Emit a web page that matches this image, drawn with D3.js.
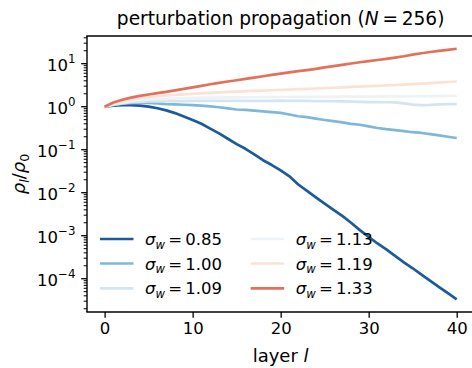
<!DOCTYPE html>
<html><head><meta charset="utf-8">
<script src="https://cdn.jsdelivr.net/npm/d3@7"></script>
<style>
html,body{margin:0;padding:0;background:#fff;}
svg{display:block;}
text{font-family:"DejaVu Sans",sans-serif;fill:#000;}
</style></head>
<body>
<script>
const layers = d3.range(0, 41);
const sigmaLabels = ["0.85", "1.00", "1.09", "1.13", "1.19", "1.33"];
const colors = ["#1d5a9b", "#7db8db", "#d3e5f0", "#edf2f6", "#fbe2d4", "#e2705a"];

const s085 = [1, 1.06, 1.09, 1.09, 1.06, 1.00, 0.92, 0.82, 0.71, 0.59, 0.49, 0.40, 0.31, 0.24, 0.18, 0.135, 0.105, 0.078, 0.057, 0.044, 0.033, 0.024, 0.0155, 0.011, 0.0078, 0.0056, 0.0040, 0.0029, 0.0020, 0.00135, 0.00094, 0.00066, 0.00048, 0.00034, 0.00024, 0.000175, 0.000125, 0.000089, 0.000064, 0.000046, 0.000033];
const s100 = [1, 1.10, 1.18, 1.21, 1.23, 1.22, 1.19, 1.15, 1.13, 1.11, 1.09, 1.06, 1.02, 0.97, 0.91, 0.86, 0.84, 0.81, 0.78, 0.75, 0.72, 0.66, 0.60, 0.57, 0.53, 0.49, 0.46, 0.43, 0.40, 0.38, 0.35, 0.32, 0.30, 0.285, 0.27, 0.255, 0.245, 0.23, 0.215, 0.20, 0.187];
const s109 = [1, 1.12, 1.20, 1.27, 1.30, 1.32, 1.33, 1.34, 1.35, 1.35, 1.36, 1.36, 1.36, 1.36, 1.37, 1.37, 1.37, 1.37, 1.37, 1.37, 1.38, 1.37, 1.36, 1.36, 1.35, 1.35, 1.34, 1.33, 1.31, 1.29, 1.28, 1.28, 1.27, 1.26, 1.20, 1.12, 1.09, 1.10, 1.13, 1.15, 1.15];
const s113 = [1, 1.15, 1.25, 1.35, 1.42, 1.47, 1.50, 1.52, 1.55, 1.57, 1.60, 1.61, 1.62, 1.63, 1.64, 1.65, 1.66, 1.66, 1.67, 1.67, 1.68, 1.68, 1.69, 1.69, 1.70, 1.70, 1.70, 1.71, 1.71, 1.72, 1.72, 1.73, 1.73, 1.74, 1.74, 1.75, 1.76, 1.76, 1.77, 1.78, 1.78];
const s119 = [1, 1.20, 1.35, 1.50, 1.60, 1.68, 1.75, 1.82, 1.88, 1.94, 2.00, 2.05, 2.10, 2.15, 2.20, 2.25, 2.29, 2.33, 2.37, 2.41, 2.45, 2.50, 2.55, 2.60, 2.65, 2.70, 2.76, 2.82, 2.88, 2.94, 3.00, 3.06, 3.13, 3.20, 3.27, 3.35, 3.44, 3.54, 3.64, 3.75, 3.85];
const s133 = [1, 1.25, 1.45, 1.62, 1.78, 1.92, 2.06, 2.22, 2.40, 2.60, 2.82, 3.06, 3.32, 3.58, 3.85, 4.12, 4.42, 4.75, 5.10, 5.50, 5.90, 6.30, 6.70, 7.10, 7.60, 8.20, 8.80, 9.40, 10.1, 10.8, 11.5, 12.2, 13.0, 13.9, 14.9, 16.2, 17.5, 18.7, 19.8, 21.0, 22.3];
const series = [s085, s100, s109, s113, s119, s133];

const xTicks = [0, 10, 20, 30, 40];
const yTickExps = [-4, -3, -2, -1, 0, 1];

const W = 472, H = 368;
const L = 87, R = 474.3, T = 36, B = 312;

const svg = d3.select("body").append("svg").attr("width", W).attr("height", H);

const x = d3.scaleLinear().domain([-2, 42]).range([L, R]);
const y = d3.scaleLog().domain([Math.pow(10, -4.774), Math.pow(10, 1.644)]).range([B, T]);

const g = svg.append("g");
const line = d3.line().x((d, i) => x(layers[i])).y(d => y(d));
series.forEach((s, k) => {
  g.append("path").datum(s).attr("d", line)
    .attr("fill", "none").attr("stroke", colors[k])
    .attr("stroke-width", 2.7).attr("stroke-linejoin", "round").attr("stroke-linecap", "butt");
});

const xAxis = d3.axisBottom(x).tickValues(xTicks).tickSize(5.8).tickPadding(4).tickFormat(d3.format("d"));
const gx = svg.append("g").attr("transform", `translate(0,${B})`).call(xAxis);
gx.select(".domain").remove();
gx.selectAll(".tick line").attr("stroke", "#000").attr("stroke-width", 1.3);
gx.selectAll(".tick text").attr("font-size", 16.5).attr("font-family", "DejaVu Sans").attr("fill", "#000");

const yMajor = yTickExps.map(e => Math.pow(10, e));
const yMinor = [];
for (let e = -5; e <= 1; e++) for (let m = 2; m <= 9; m++) {
  const v = m * Math.pow(10, e);
  if (y(v) <= B && y(v) >= T) yMinor.push(v);
}
const gy = svg.append("g");
gy.selectAll("line.minor").data(yMinor).enter().append("line")
  .attr("x1", L - 3.3).attr("x2", L).attr("y1", d => y(d)).attr("y2", d => y(d))
  .attr("stroke", "#000").attr("stroke-width", 1.0);
gy.selectAll("line.major").data(yMajor).enter().append("line")
  .attr("x1", L - 5.8).attr("x2", L).attr("y1", d => y(d)).attr("y2", d => y(d))
  .attr("stroke", "#000").attr("stroke-width", 1.3);
const yl = gy.selectAll("text.yt").data(yTickExps).enter().append("text")
  .attr("text-anchor", "end").attr("font-size", 16.5)
  .attr("x", L - 11.5).attr("y", d => y(Math.pow(10, d)) + 7.5);
yl.append("tspan").text("10");
yl.append("tspan").attr("dy", -8).attr("font-size", 11.8).text(d => d < 0 ? "\u2212" + Math.abs(d) : String(d));

svg.append("line").attr("x1", L).attr("x2", L).attr("y1", T).attr("y2", B).attr("stroke", "#000").attr("stroke-width", 1.4);
svg.append("line").attr("x1", L - 0.7).attr("x2", R).attr("y1", B).attr("y2", B).attr("stroke", "#000").attr("stroke-width", 1.4);
svg.append("line").attr("x1", L - 0.7).attr("x2", R).attr("y1", T).attr("y2", T).attr("stroke", "#000").attr("stroke-width", 1.4);
svg.append("line").attr("x1", R).attr("x2", R).attr("y1", T).attr("y2", B).attr("stroke", "#000").attr("stroke-width", 1.4);

const title = svg.append("text").attr("x", (L + R) / 2).attr("y", 25).attr("text-anchor", "middle").attr("font-size", 18.6);
title.append("tspan").text("perturbation propagation (");
title.append("tspan").attr("font-style", "italic").text("N");
title.append("tspan").text("\u2009=\u2009256)");

const xl = svg.append("text").attr("x", (L + R) / 2).attr("y", 362).attr("text-anchor", "middle").attr("font-size", 18);
xl.append("tspan").text("layer ");
xl.append("tspan").attr("font-style", "italic").text("l");

const ylab = svg.append("text").attr("transform", `translate(25,${(T + B) / 2}) rotate(-90)`).attr("text-anchor", "middle").attr("font-size", 18);
ylab.append("tspan").attr("font-style", "italic").text("\u03c1");
ylab.append("tspan").attr("font-style", "italic").attr("font-size", 12.6).attr("dy", 4).text("l");
ylab.append("tspan").attr("dy", -4).text("/");
ylab.append("tspan").attr("font-style", "italic").text("\u03c1");
ylab.append("tspan").attr("font-size", 12.6).attr("dy", 4).text("0");

const legX = [100, 250.7], legY = [239, 263.5, 288.3], hl = 33.5;
sigmaLabels.forEach((lab, k) => {
  const col = Math.floor(k / 3), row = k % 3;
  const lx = legX[col], ly = legY[row];
  svg.append("line").attr("x1", lx).attr("x2", lx + hl).attr("y1", ly).attr("y2", ly)
    .attr("stroke", colors[k]).attr("stroke-width", 2.7);
  const t = svg.append("text").attr("x", lx + 45).attr("y", ly + 6).attr("font-size", 16.5);
  t.append("tspan").attr("font-style", "italic").text("\u03c3");
  t.append("tspan").attr("font-style", "italic").attr("font-size", 11.6).attr("dy", 3.5).text("w");
  t.append("tspan").attr("dy", -3.5).text("\u2009=\u2009" + lab);
});
</script>
</body></html>
